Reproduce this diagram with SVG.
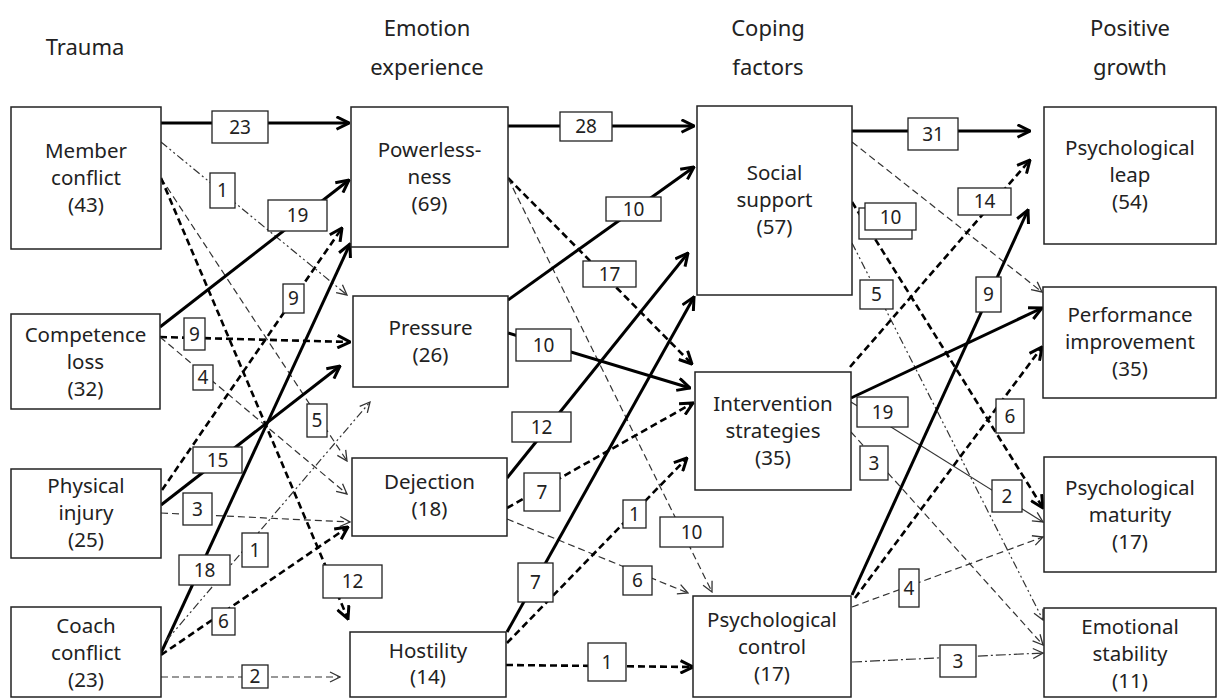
<svg xmlns="http://www.w3.org/2000/svg" width="1218" height="699" viewBox="0 0 1218 699">
<style>
.node rect{fill:#fff;stroke:#222;stroke-width:1.5}
text{font-family:"Noto Sans","Open Sans","DejaVu Sans",sans-serif;fill:#222;text-anchor:middle}
.node text{font-size:20.5px}
.hdr{font-size:22px}
#connectors line{fill:none}
.ts{stroke:#000;stroke-width:3}
.td{stroke:#000;stroke-width:2.6;stroke-dasharray:7 4}
.tnd{stroke:#333;stroke-width:1.2;stroke-dasharray:7 4}
.dd2{stroke:#333;stroke-width:1.2;stroke-dasharray:8 3 2 3 2 3}
.dd{stroke:#333;stroke-width:1.2;stroke-dasharray:10 3 2 3}
.tn{stroke:#333;stroke-width:1.2}
.lbl rect{fill:#fff;stroke:#222;stroke-width:1.3}
.lbl text{font-size:19px}
</style>
<defs>
<marker id="ak" viewBox="0 0 12 12" refX="11" refY="6" markerWidth="15" markerHeight="15" markerUnits="userSpaceOnUse" orient="auto">
<path d="M1,1 L11,6 L1,11" fill="none" stroke="#000" stroke-width="2.4" stroke-dasharray="none"/>
</marker>
<marker id="an" viewBox="0 0 12 12" refX="11" refY="6" markerWidth="12" markerHeight="12" markerUnits="userSpaceOnUse" orient="auto">
<path d="M1,1 L11,6 L1,11" fill="none" stroke="#333" stroke-width="1.3" stroke-dasharray="none"/>
</marker>
</defs>
<rect width="1218" height="699" fill="#fff"/>

<g id="headers">
<text class="hdr" x="85" y="55">Trauma</text>
<text class="hdr" x="427" y="36">Emotion</text>
<text class="hdr" x="427" y="75">experience</text>
<text class="hdr" x="768" y="36">Coping</text>
<text class="hdr" x="768" y="75">factors</text>
<text class="hdr" x="1130" y="36">Positive</text>
<text class="hdr" x="1130" y="75">growth</text>
</g>

<g id="connectors">
<line class="ts" x1="161" y1="123" x2="349" y2="123" marker-end="url(#ak)"/>
<line class="dd2" x1="161" y1="142" x2="347" y2="295" marker-end="url(#an)"/>
<line class="tnd" x1="161" y1="178" x2="347" y2="461" marker-end="url(#an)"/>
<line class="td" x1="161" y1="178" x2="348" y2="619" marker-end="url(#ak)"/>
<line class="ts" x1="160" y1="327" x2="349" y2="180" marker-end="url(#ak)"/>
<line class="td" x1="160" y1="337" x2="350" y2="342" marker-end="url(#ak)"/>
<line class="tnd" x1="160" y1="337" x2="347" y2="494" marker-end="url(#an)"/>
<line class="td" x1="162" y1="490" x2="342" y2="228" marker-end="url(#ak)"/>
<line class="ts" x1="161" y1="505" x2="340" y2="366" marker-end="url(#ak)"/>
<line class="tnd" x1="161" y1="513" x2="350" y2="522" marker-end="url(#an)"/>
<line class="ts" x1="161" y1="653" x2="350" y2="244" marker-end="url(#ak)"/>
<line class="dd2" x1="166" y1="641" x2="370" y2="402" marker-end="url(#an)"/>
<line class="td" x1="161" y1="655" x2="348" y2="527" marker-end="url(#ak)"/>
<line class="tnd" x1="161" y1="677" x2="340" y2="677" marker-end="url(#an)"/>

<line class="ts" x1="508" y1="126" x2="694" y2="126" marker-end="url(#ak)"/>
<line class="td" x1="508" y1="178" x2="692" y2="364" marker-end="url(#ak)"/>
<line class="tnd" x1="508" y1="178" x2="712" y2="592" marker-end="url(#an)"/>
<line class="ts" x1="508" y1="300" x2="694" y2="167" marker-end="url(#ak)"/>
<line class="ts" x1="508" y1="333" x2="690" y2="388" marker-end="url(#ak)"/>
<line class="ts" x1="507" y1="478" x2="688" y2="253" marker-end="url(#ak)"/>
<line class="td" x1="507" y1="508" x2="693" y2="403" marker-end="url(#ak)"/>
<line class="tnd" x1="507" y1="519" x2="688" y2="593" marker-end="url(#an)"/>
<line class="ts" x1="507" y1="632" x2="694" y2="297" marker-end="url(#ak)"/>
<line class="td" x1="507" y1="643" x2="687" y2="458" marker-end="url(#ak)"/>
<line class="td" x1="506" y1="665" x2="693" y2="667" marker-end="url(#ak)"/>

<line class="ts" x1="852" y1="131" x2="1030" y2="131" marker-end="url(#ak)"/>
<line class="tnd" x1="852" y1="142" x2="1042" y2="292" marker-end="url(#an)"/>
<line class="td" x1="852" y1="202" x2="1043" y2="508" marker-end="url(#ak)"/>
<line class="dd2" x1="852" y1="243" x2="1043" y2="620" marker-end="url(#an)"/>
<line class="td" x1="850" y1="367" x2="1030" y2="160" marker-end="url(#ak)"/>
<line class="ts" x1="851" y1="398" x2="1042" y2="308" marker-end="url(#ak)"/>
<line class="tn" x1="851" y1="402" x2="1043" y2="522" marker-end="url(#an)"/>
<line class="tnd" x1="851" y1="432" x2="1043" y2="645" marker-end="url(#an)"/>
<line class="ts" x1="852" y1="595" x2="1028" y2="210" marker-end="url(#ak)"/>
<line class="td" x1="855" y1="598" x2="1042" y2="347" marker-end="url(#ak)"/>
<line class="tnd" x1="852" y1="607" x2="1043" y2="537" marker-end="url(#an)"/>
<line class="dd" x1="852" y1="662" x2="1043" y2="653" marker-end="url(#an)"/>
</g>

<g id="edge-labels" class="lbl">
<rect x="212" y="111" width="56" height="32"/><text x="240" y="134">23</text>
<rect x="210" y="173" width="25" height="35"/><text x="222.5" y="197">1</text>
<rect x="307" y="404" width="20" height="33"/><text x="317" y="427">5</text>
<rect x="323" y="565" width="59" height="33"/><text x="352.5" y="588">12</text>
<rect x="268" y="200" width="59" height="31"/><text x="297.5" y="222">19</text>
<rect x="184" y="318" width="21" height="32"/><text x="194.5" y="341">9</text>
<rect x="193" y="365" width="20" height="25"/><text x="203" y="384">4</text>
<rect x="283" y="284" width="21" height="29"/><text x="293.5" y="305">9</text>
<rect x="193" y="447" width="49" height="26"/><text x="217.5" y="467">15</text>
<rect x="183" y="493" width="29" height="32"/><text x="197.5" y="516">3</text>
<rect x="179" y="555" width="51" height="30"/><text x="204.5" y="577">18</text>
<rect x="242" y="533" width="26" height="34"/><text x="255" y="557">1</text>
<rect x="212" y="608" width="23" height="27"/><text x="223.5" y="628">6</text>
<rect x="242" y="665" width="26" height="23"/><text x="255" y="683">2</text>

<rect x="560" y="112" width="52" height="29"/><text x="586" y="133">28</text>
<rect x="583" y="261" width="53" height="26"/><text x="609.5" y="281">17</text>
<rect x="660" y="517" width="63" height="30"/><text x="691.5" y="539">10</text>
<rect x="606" y="197" width="55" height="24"/><text x="633.5" y="216">10</text>
<rect x="516" y="329" width="55" height="32"/><text x="543.5" y="352">10</text>
<rect x="512" y="412" width="59" height="30"/><text x="541.5" y="434">12</text>
<rect x="524" y="473" width="36" height="38"/><text x="542" y="499">7</text>
<rect x="623" y="566" width="29" height="29"/><text x="637.5" y="587">6</text>
<rect x="518" y="563" width="35" height="39"/><text x="535.5" y="589">7</text>
<rect x="623" y="500" width="23" height="28"/><text x="634.5" y="521">1</text>
<rect x="588" y="643" width="38" height="38"/><text x="607" y="669">1</text>

<rect x="908" y="118" width="50" height="32"/><text x="933" y="141">31</text>
<rect x="859" y="208" width="53" height="31"/>
<rect x="865" y="203" width="51" height="27"/><text x="890.5" y="224">10</text>
<rect x="860" y="280" width="33" height="29"/><text x="876.5" y="301">5</text>
<rect x="958" y="188" width="53" height="27"/><text x="984.5" y="208">14</text>
<rect x="857" y="397" width="51" height="30"/><text x="882.5" y="419">19</text>
<rect x="992" y="480" width="30" height="32"/><text x="1007" y="503">2</text>
<rect x="860" y="446" width="28" height="34"/><text x="874" y="470">3</text>
<rect x="976" y="277" width="25" height="35"/><text x="988.5" y="301">9</text>
<rect x="996" y="399" width="28" height="34"/><text x="1010" y="423">6</text>
<rect x="899" y="569" width="20" height="38"/><text x="909" y="595">4</text>
<rect x="940" y="645" width="36" height="32"/><text x="958" y="668">3</text>
</g>

<g id="n-member" class="node"><rect x="11" y="107" width="150" height="142"/><text x="86" y="158">Member</text><text x="86" y="185">conflict</text><text x="86" y="212">(43)</text></g>
<g id="n-competence" class="node"><rect x="11" y="314" width="149" height="95"/><text x="85.5" y="342">Competence</text><text x="85.5" y="369">loss</text><text x="85.5" y="396">(32)</text></g>
<g id="n-physical" class="node"><rect x="11" y="469" width="150" height="89"/><text x="86" y="493">Physical</text><text x="86" y="520">injury</text><text x="86" y="547">(25)</text></g>
<g id="n-coach" class="node"><rect x="11" y="607" width="150" height="90"/><text x="86" y="633">Coach</text><text x="86" y="660">conflict</text><text x="86" y="687">(23)</text></g>

<g id="n-powerless" class="node"><rect x="351" y="107" width="157" height="140"/><text x="429.5" y="157">Powerless-</text><text x="429.5" y="184">ness</text><text x="429.5" y="211">(69)</text></g>
<g id="n-pressure" class="node"><rect x="353" y="296" width="155" height="91"/><text x="430.5" y="335">Pressure</text><text x="430.5" y="362">(26)</text></g>
<g id="n-dejection" class="node"><rect x="352" y="458" width="155" height="78"/><text x="429.5" y="489">Dejection</text><text x="429.5" y="516">(18)</text></g>
<g id="n-hostility" class="node"><rect x="350" y="632" width="156" height="65"/><text x="428" y="658">Hostility</text><text x="428" y="684">(14)</text></g>

<g id="n-social" class="node"><rect x="697" y="106" width="155" height="189"/><text x="774.5" y="180">Social</text><text x="774.5" y="207">support</text><text x="774.5" y="234">(57)</text></g>
<g id="n-intervention" class="node"><rect x="695" y="372" width="156" height="118"/><text x="773" y="411">Intervention</text><text x="773" y="438">strategies</text><text x="773" y="465">(35)</text></g>
<g id="n-control" class="node"><rect x="693" y="596" width="158" height="101"/><text x="772" y="627">Psychological</text><text x="772" y="654">control</text><text x="772" y="681">(17)</text></g>

<g id="n-leap" class="node"><rect x="1044" y="107" width="172" height="137"/><text x="1130" y="155">Psychological</text><text x="1130" y="182">leap</text><text x="1130" y="209">(54)</text></g>
<g id="n-performance" class="node"><rect x="1043" y="287" width="173" height="111"/><text x="1130" y="322">Performance</text><text x="1130" y="349">improvement</text><text x="1130" y="376">(35)</text></g>
<g id="n-maturity" class="node"><rect x="1044" y="457" width="172" height="115"/><text x="1130" y="495">Psychological</text><text x="1130" y="522">maturity</text><text x="1130" y="549">(17)</text></g>
<g id="n-stability" class="node"><rect x="1044" y="608" width="172" height="89"/><text x="1130" y="634">Emotional</text><text x="1130" y="661">stability</text><text x="1130" y="688">(11)</text></g>
</svg>
